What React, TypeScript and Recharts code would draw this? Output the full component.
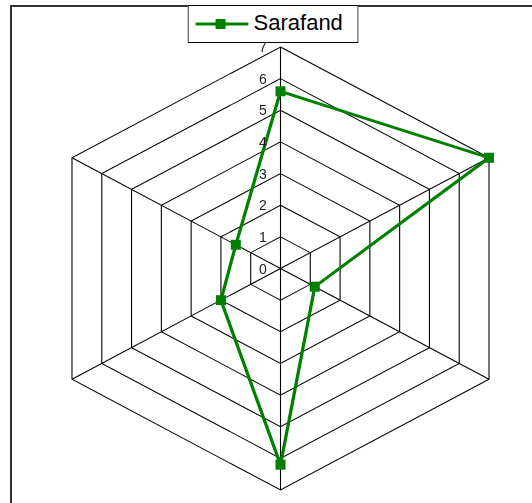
import { RadarChart, Radar, PolarGrid, PolarAngleAxis, PolarRadiusAxis, Legend } from 'recharts';

// six unnamed spokes, clockwise from the top
const spokes = ['s1', 's2', 's3', 's4', 's5', 's6'];
const sarafand = [5.6, 7.0, 1.15, 6.2, 2.0, 1.5];
const radiusTicks = [0, 1, 2, 3, 4, 5, 6, 7];

const data = spokes.map((name, i) => ({ name, Sarafand: sarafand[i] }));

// the original plot is a bit wider than a regular hexagon
const SX = 1.087;
const CX = 280.5;
const CY = 268.5;
const GREEN = '#008000';
const FONT = '"Liberation Sans", Arial, sans-serif';

const RadiusTick = ({ x, y, payload }: any) => (
  <g transform={`translate(${x - 16.1},${y}) scale(${1 / SX},1)`}>
    <text x={0} y={0} textAnchor="middle" dominantBaseline="central" fontSize={14} fill="#222" fontFamily={FONT}>
      {payload.value}
    </text>
  </g>
);

const SquareDot = ({ cx, cy }: any) => (
  <rect x={cx - 5 / SX} y={cy - 5} width={10 / SX} height={10} fill={GREEN} />
);

const LegendBox = ({ payload }: any) => {
  const item = payload && payload[0];
  return (
    <div
      style={{
        position: 'relative',
        width: 171,
        height: 38,
        boxSizing: 'border-box',
        border: '1px solid #000',
        background: '#fff',
      }}
    >
      <svg width={60} height={20} style={{ position: 'absolute', left: 0, top: 8 }}>
        <line x1={7} y1={10} x2={60} y2={10} stroke={GREEN} strokeWidth={3} />
        <rect x={27} y={5} width={10} height={10} fill={GREEN} />
      </svg>
      <span
        style={{
          position: 'absolute',
          left: 65,
          top: 5,
          fontFamily: FONT,
          fontSize: 22,
          lineHeight: '24px',
          color: '#000',
        }}
      >
        {item ? item.value : 'Sarafand'}
      </span>
    </div>
  );
};

export default function App() {
  return (
    <div style={{ position: 'fixed', left: 0, top: 0, width: 532, height: 503, overflow: 'hidden', background: '#fff' }}>
      <div
        style={{
          position: 'absolute',
          left: 10,
          top: 5,
          width: 600,
          height: 600,
          border: '2px solid #333',
        }}
      />
      <div
        style={{
          position: 'absolute',
          left: 0,
          top: 0,
          width: 532,
          height: 503,
          transform: `scaleX(${SX})`,
          transformOrigin: `${CX}px ${CY}px`,
        }}
      >
        <RadarChart
          width={532}
          height={503}
          data={data}
          cx={CX}
          cy={CY}
          outerRadius={221.5}
          margin={{ top: 0, right: 0, bottom: 0, left: 0 }}
        >
          <PolarGrid gridType="polygon" stroke="#000" strokeWidth={1} />
          <PolarAngleAxis dataKey="name" tick={false} axisLine={false} tickLine={false} />
          <PolarRadiusAxis
            angle={90}
            type="number"
            domain={[0, 7]}
            ticks={radiusTicks}
            tickCount={8}
            axisLine={false}
            tickLine={false}
            tick={RadiusTick}
          />
          <Radar
            name="Sarafand"
            dataKey="Sarafand"
            stroke={GREEN}
            strokeWidth={3}
            fill="none"
            fillOpacity={0}
            dot={SquareDot}
            isAnimationActive={false}
          />
          <Legend
            layout="horizontal"
            verticalAlign="middle"
            width={171}
            height={38}
            content={LegendBox}
            wrapperStyle={{
              left: CX - (CX - 188) / SX,
              top: 5,
              width: 171,
              height: 38,
              transform: `scaleX(${1 / SX})`,
              transformOrigin: '0 0',
            }}
          />
        </RadarChart>
      </div>
    </div>
  );
}
